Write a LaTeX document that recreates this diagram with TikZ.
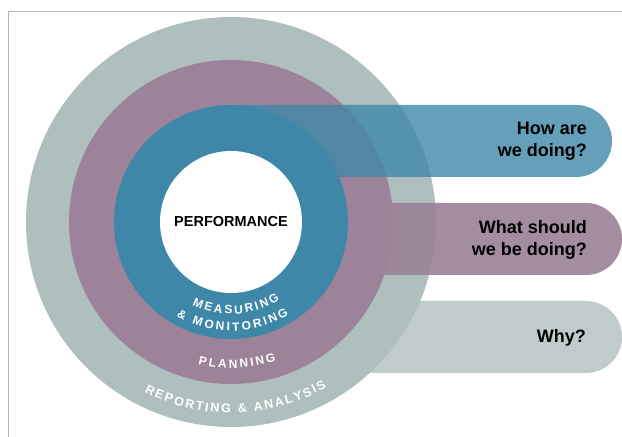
\documentclass[tikz,border=0pt]{standalone}
\usepackage{fontspec}
\setmainfont{Liberation Sans}
\usetikzlibrary{decorations.text}

\definecolor{ringgray}{HTML}{AEBFBE}
\definecolor{bargray}{HTML}{BFCCCB}
\definecolor{ringmauve}{HTML}{9C8399}
\definecolor{ringblue}{HTML}{3F87A8}
\definecolor{framegray}{HTML}{B4B4B4}

\begin{document}
\begin{tikzpicture}
  [x=1pt, y=1pt,
   question/.style={anchor=east, align=right, inner sep=0,
     font=\fontsize{18}{22}\selectfont\bfseries},
   arctext/.style={decorate, decoration={text along path,
     text align={fit to path}, text color=white, text={#1}}}]
  \useasboundingbox (0,0) rectangle (622,437);
  \draw[framegray, line width=1pt] (8,0) -- (8,425) -- (622,425);

  \coordinate (c) at (231,215);

  % bars and rings, back to front
  \fill[bargray] (231,136) -- (586,136) arc[start angle=90, end angle=-90, radius=36pt]
    -- (231,64) -- cycle;
  \fill[ringgray] (c) circle[radius=205pt];
  \fill[ringmauve, opacity=0.92] (231,234) -- (586,234) arc[start angle=90, end angle=-90, radius=36pt]
    -- (231,162) -- cycle;
  \fill[ringmauve] (c) circle[radius=162pt];
  \fill[ringblue, opacity=0.8] (231,332) -- (576,332) arc[start angle=90, end angle=-90, radius=36pt]
    -- (231,260) -- cycle;
  \fill[ringblue] (c) circle[radius=117pt];
  \fill[white] (c) circle[radius=71pt];

  \node[font=\fontsize{14.5}{16}\selectfont\bfseries] (perf) at (c) {PERFORMANCE};

  % ring labels
  \path[arctext={|\fontsize{12}{14}\selectfont\bfseries|MEASURING}]
    (c) ++(245:92pt) arc[start angle=245, end angle=302, radius=92pt];
  \path[arctext={|\fontsize{12}{14}\selectfont\bfseries|{\&} MONITORING}]
    (c) ++(240:109pt) arc[start angle=240, end angle=302, radius=109pt];
  \path[arctext={|\fontsize{12}{14}\selectfont\bfseries|PLANNING}]
    (c) ++(257:146pt) arc[start angle=257, end angle=288, radius=146pt];
  \path[arctext={|\fontsize{12.5}{14}\selectfont\bfseries|REPORTING {\&} ANALYSIS}]
    (c) ++(243:191pt) arc[start angle=243, end angle=300, radius=191pt];

  % questions
  \node[question] (how) at (587,296) {How are\\we doing?};
  \node[question] (what) at (587,197) {What should\\we be doing?};
  \node[question] (why) at (586,99) {Why?};
\end{tikzpicture}
\end{document}
